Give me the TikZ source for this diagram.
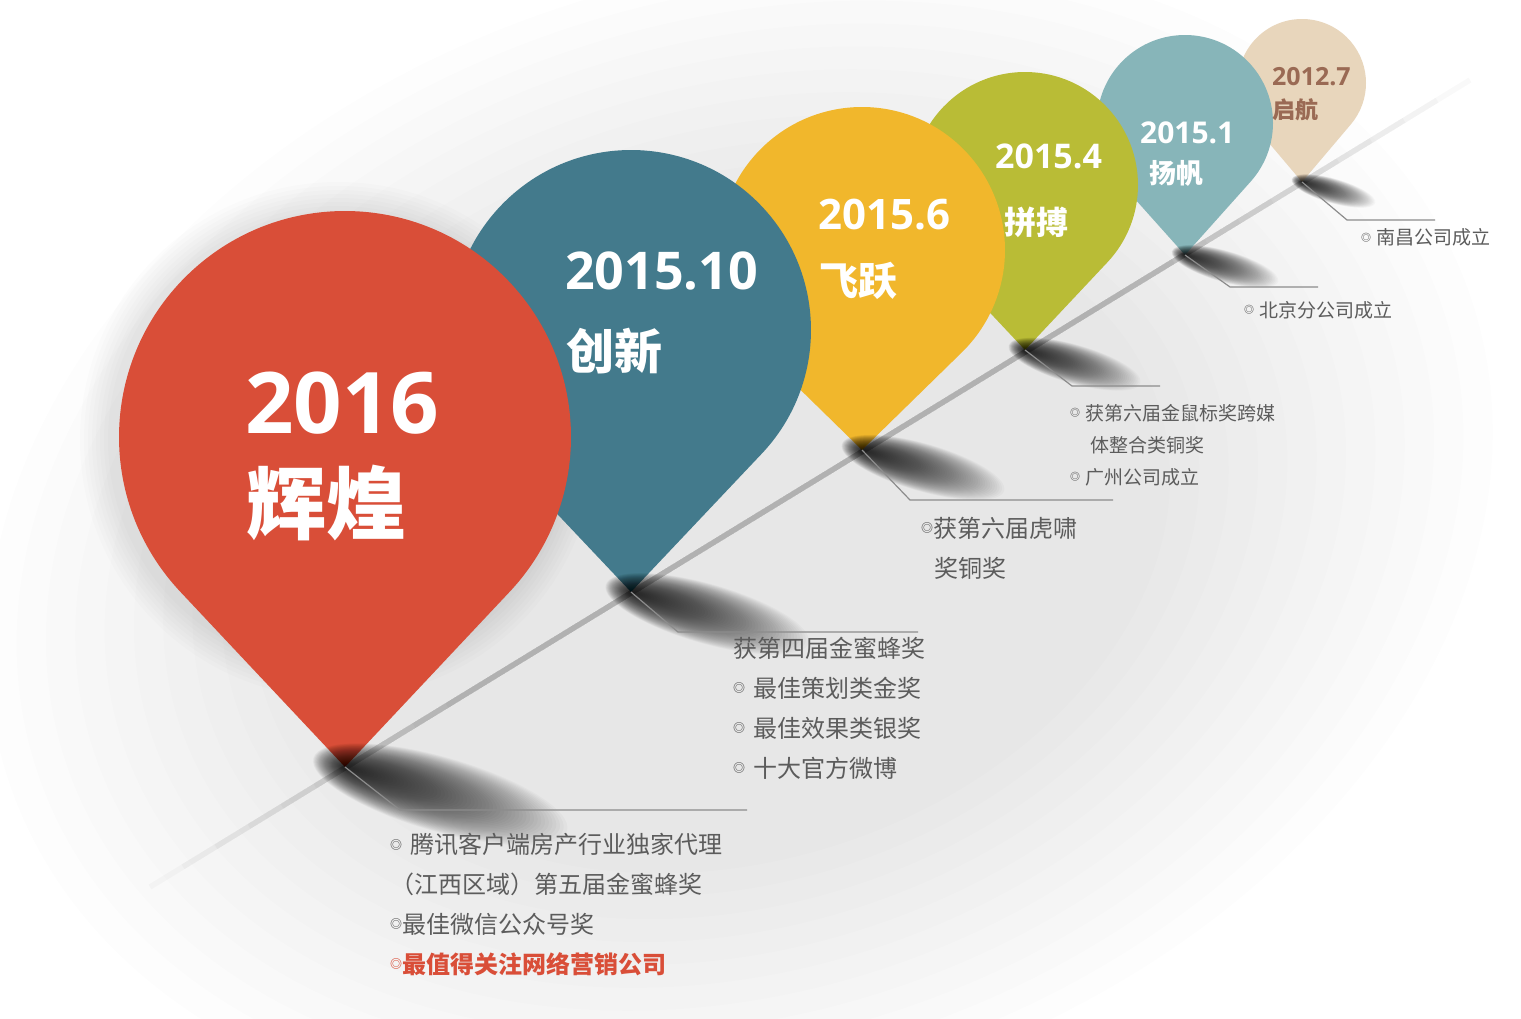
\documentclass[tikz,border=0pt]{standalone}
\usepackage{fontspec}
\usepackage{xcolor}
\usepackage{tikz}
\usetikzlibrary{calc,positioning}

\newfontfamily\cjk{Noto Sans CJK SC}
\newfontfamily\yearfont{Open Sans}

\definecolor{pinred}{HTML}{D94E38}
\definecolor{pinteal}{HTML}{437A8C}
\definecolor{pinyellow}{HTML}{F1B72C}
\definecolor{pinolive}{HTML}{B9BC36}
\definecolor{pinsky}{HTML}{87B5B9}
\definecolor{pinbeige}{HTML}{E8D6BC}
\definecolor{beigetext}{HTML}{9A6A54}
\definecolor{notegray}{HTML}{5C5C5C}
\definecolor{leadgray}{HTML}{8C8C8C}

% small bullet ring in front of a note line
\newcommand{\bul}[1]{\raisebox{.2em}{\fontsize{#1}{#1}\selectfont\bfseries ◎}}

% pin: tip name, colour, centre x, centre y, radius, tip y
\newcommand{\pin}[6]{%
    \pgfmathsetmacro{\pa}{acos(#5/(#6-#4))}
    \coordinate (#1) at (#3,#6);
    \fill[#2] (#1) -- ($(#3,#4)+(90+\pa:#5)$)
        arc[start angle=90+\pa, end angle=450-\pa, radius=#5] -- cycle;
}

% soft shadow running down-right from a tip
\newcommand{\tipshade}[2]{%
    \begin{scope}[shift={(#1)}, rotate=-16, scale=#2]
        \foreach \i in {1,...,60}
            \fill[black, opacity=0.024] (1.65*\i,0) ellipse [x radius=2.2*\i, y radius=0.62*\i];
    \end{scope}
}

\begin{document}
\begin{tikzpicture}[
    x=1pt, y=-1pt,
    yr/.style={font=\yearfont\bfseries\fontsize{#1}{#1}\selectfont, text=white,
        anchor=base west, inner sep=0pt},
    nm/.style={font=\cjk\bfseries\fontsize{#1}{#1}\selectfont, text=white,
        anchor=base west, inner sep=0pt},
    note/.style 2 args={font=\cjk\fontsize{#1}{#2}\selectfont, text=notegray,
        anchor=base west, align=left, inner sep=0pt},
    lead/.style={draw=leadgray, line width=1.2pt},
]
    \useasboundingbox (0,0) rectangle (1521,1019);
    \fill[white] (0,0) rectangle (1521,1019);

    % ---------- grey backdrop ----------
    \begin{scope}[shift={(740,540)}, rotate=18]
        \foreach \i in {0,...,11}
            \fill[black, opacity=0.008] (0,0) ellipse [x radius=440+30*\i, y radius=320+22*\i];
    \end{scope}
    \foreach \i in {1,...,8}
        \fill[black, opacity=0.012] (338,440) circle [radius=226+4*\i];

    % ---------- timeline ----------
    \coordinate (lineA) at (150,887);
    \coordinate (lineB) at (1470,80);
    \foreach \k in {0,...,9}
        \draw[line width=5.5pt, black, opacity=0.022]
            ($(lineA)!{\k*0.025}!(lineB)$) -- ($(lineA)!{1-\k*0.025}!(lineB)$);

    % ---------- pins, back to front ----------
    \pin{tipF}{pinbeige}{1302}{83}{64}{182}
    \pin{tipE}{pinsky}{1185}{123}{88}{255}
    \pin{tipD}{pinolive}{1025}{185}{113}{350}
    \pin{tipC}{pinyellow}{862}{250}{143}{450}
    \pin{tipB}{pinteal}{631}{330}{180}{592}
    \pin{tipA}{pinred}{345}{437}{226}{767}

    % ---------- shadows under the tips ----------
    \tipshade{tipA}{1}
    \tipshade{tipB}{0.8}
    \tipshade{tipC}{0.64}
    \tipshade{tipD}{0.52}
    \tipshade{tipE}{0.42}
    \tipshade{tipF}{0.33}

    % ---------- leader lines ----------
    \coordinate (kneeA) at (400,810);  \coordinate (endA) at (747,810);
    \coordinate (kneeB) at (678,632);  \coordinate (endB) at (918,632);
    \coordinate (kneeC) at (910,500);  \coordinate (endC) at (1113,500);
    \coordinate (kneeD) at (1072,386); \coordinate (endD) at (1160,386);
    \coordinate (kneeE) at (1230,287); \coordinate (endE) at (1318,287);
    \coordinate (kneeF) at (1347,220); \coordinate (endF) at (1435,220);
    \foreach \p in {A,B,C,D,E,F}
        \draw[lead] (tip\p) -- (knee\p) -- (end\p);

    % ---------- pin texts ----------
    \node[yr=85] (yrA) at (245,433) {2016};
    \node[nm=80] (nmA) at (246,533) {辉煌};
    \node[yr=52] (yrB) at (565,290) {2015.10};
    \node[nm=48] (nmB) at (566,369) {创新};
    \node[yr=42] (yrC) at (818,230) {2015.6};
    \node[nm=39] (nmC) at (819,295) {飞跃};
    \node[yr=34] (yrD) at (995,169) {2015.4};
    \node[nm=32] (nmD) at (1004,235) {拼搏};
    \node[yr=30] (yrE) at (1140,144) {2015.1};
    \node[nm=27] (nmE) at (1149,184) {扬帆};
    \node[yr=25, text=beigetext] (yrF) at (1272,86) {2012.7};
    \node[nm=23, text=beigetext] (nmF) at (1272,119) {启航};

    % ---------- notes (base = last line) ----------
    \node[note={24}{39.7}] (noteA) at (390,973)
        {\bul{12pt}\hspace{8pt}腾讯客户端房产行业独家代理\\
         （江西区域）第五届金蜜蜂奖\\
         \bul{12pt}最佳微信公众号奖\\
         \textcolor{pinred}{\bfseries\bul{12pt}最值得关注网络营销公司}};
    \node[note={24}{40}] (noteB) at (733,777)
        {获第四届金蜜蜂奖\\
         \bul{12pt}\hspace{8pt}最佳策划类金奖\\
         \bul{12pt}\hspace{8pt}最佳效果类银奖\\
         \bul{12pt}\hspace{8pt}十大官方微博};
    \node[note={24}{40}] (noteC) at (921,577)
        {\bul{12pt}获第六届虎啸\\
         \hspace*{13pt}奖铜奖};
    \node[note={19}{32}] (noteD) at (1070,484)
        {\bul{10pt}\hspace{5pt}获第六届金鼠标奖跨媒\\
         \hspace*{20pt}体整合类铜奖\\
         \bul{10pt}\hspace{5pt}广州公司成立};
    \node[note={19}{32}] (noteE) at (1244,317) {\bul{10pt}\hspace{5pt}北京分公司成立};
    \node[note={19}{32}] (noteF) at (1361,245) {\bul{10pt}\hspace{5pt}南昌公司成立};
\end{tikzpicture}
\end{document}
